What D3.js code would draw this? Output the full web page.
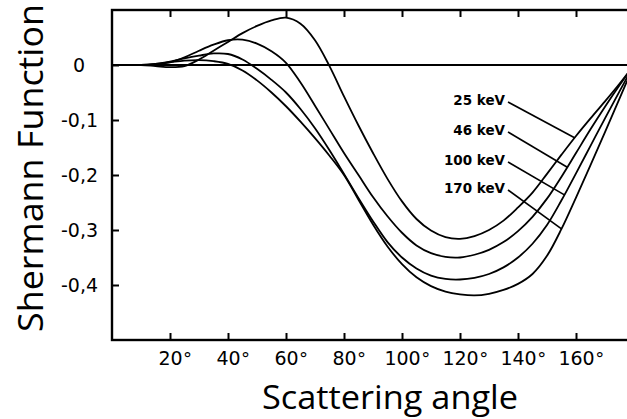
<!DOCTYPE html>
<html>
<head>
<meta charset="utf-8">
<script src="https://cdn.jsdelivr.net/npm/d3@7"></script>
<style>
  html, body { margin: 0; padding: 0; background: #fff; overflow: hidden; }
  svg { display: block; }
</style>
</head>
<body>
<svg id="chart" width="627" height="419"></svg>
<script>
// ---------- data ----------
const angles = [0,10,15,20,25,30,35,40,45,50,55,60,65,70,75,80,85,90,95,100,105,110,115,120,125,130,135,140,145,150,155,160,165,170,175,180];
const s25 = [0,0,-0.002,-0.004,-0.002,0.010,0.026,0.042,0.058,0.071,0.081,0.086,0.075,0.045,-0.002,-0.057,-0.110,-0.160,-0.207,-0.248,-0.280,-0.301,-0.313,-0.316,-0.311,-0.300,-0.283,-0.259,-0.232,-0.198,-0.163,-0.129,-0.097,-0.066,-0.034,0];
const s46 = [0,0,0.001,0.005,0.014,0.026,0.037,0.045,0.046,0.039,0.025,0.004,-0.032,-0.074,-0.117,-0.160,-0.200,-0.240,-0.275,-0.305,-0.328,-0.342,-0.349,-0.350,-0.345,-0.336,-0.322,-0.302,-0.276,-0.243,-0.203,-0.160,-0.117,-0.076,-0.037,0];
const s100 = [0,0,0.002,0.006,0.012,0.017,0.021,0.020,0.010,-0.007,-0.027,-0.050,-0.080,-0.115,-0.155,-0.198,-0.242,-0.284,-0.322,-0.350,-0.370,-0.383,-0.389,-0.390,-0.387,-0.380,-0.368,-0.350,-0.325,-0.291,-0.246,-0.197,-0.147,-0.097,-0.048,0];
const s170 = [0,0,0.002,0.005,0.008,0.009,0.007,0.002,-0.010,-0.028,-0.050,-0.075,-0.103,-0.133,-0.165,-0.200,-0.245,-0.290,-0.330,-0.362,-0.386,-0.402,-0.412,-0.417,-0.419,-0.416,-0.409,-0.398,-0.380,-0.347,-0.298,-0.241,-0.182,-0.122,-0.061,0];
const seriesNames = ["25 keV","46 keV","100 keV","170 keV"];
const leaderAngles = [159.5,157,156,155];
const xTicks = [20,40,60,80,100,120,140,160];
const yTicks = [0,-0.1,-0.2,-0.3,-0.4];
const xTitle = "Scattering angle";
const yTitle = "Shermann Function";

const allSeries = [s25, s46, s100, s170];

// ---------- layout ----------
const svg = d3.select("#chart");
svg.append("rect").attr("width",627).attr("height",419).attr("fill","#fff");

const x = d3.scaleLinear().domain([0,180]).range([112,634]);
const y = d3.scaleLinear().domain([-0.5,0.1]).range([340,10]);

const tickFont = "'DejaVu Sans', sans-serif";
const g = svg.append("g");

// zero line
g.append("line").attr("x1",x(0)).attr("x2",x(180)).attr("y1",y(0)).attr("y2",y(0))
  .attr("stroke","#000").attr("stroke-width",2);

// curves
const line = d3.line().x((d,i)=>x(angles[i])).y(d=>y(d)).curve(d3.curveCatmullRom.alpha(0.5));
allSeries.forEach(s=>{
  g.append("path").attr("d",line(s)).attr("fill","none")
   .attr("stroke","#000").attr("stroke-width",1.8);
});

// axes ticks (inward)
const ax = (gen, tr) => g.append("g").attr("transform",tr).call(gen);
const axTop = ax(d3.axisTop(x).tickValues(xTicks).tickSize(-7).tickSizeOuter(0).tickFormat(""), `translate(0,${y(0.1)})`);
const axBottom = ax(d3.axisBottom(x).tickValues(xTicks).tickSize(-7).tickSizeOuter(0).tickFormat(d=>d), `translate(0,${y(-0.5)})`);
const axLeft = ax(d3.axisLeft(y).tickValues(yTicks).tickSize(-7).tickSizeOuter(0).tickFormat(d=> d===0 ? "0" : "-" + Math.abs(d).toFixed(1).replace(".",",")), `translate(${x(0)},0)`);
const axRight = ax(d3.axisRight(y).tickValues(yTicks.slice(1)).tickSize(-7).tickSizeOuter(0).tickFormat(""), `translate(${x(180)},0)`);

[axTop,axBottom,axLeft,axRight].forEach(a=>{
  a.select(".domain").remove();
  a.selectAll(".tick line").attr("stroke","#000").attr("stroke-width",2);
});

// frame
g.append("rect").attr("x",x(0)).attr("y",y(0.1)).attr("width",x(180)-x(0)).attr("height",y(-0.5)-y(0.1))
  .attr("fill","none").attr("stroke","#000").attr("stroke-width",2.4);

// y tick labels: leading zeros aligned
axLeft.selectAll(".tick text")
  .attr("font-family",tickFont).attr("font-size",19).attr("fill","#000")
  .attr("text-anchor","start")
  .attr("x", d => d===0 ? 73-112 : 61-112)
  .attr("dy","0.35em");

// x tick labels: digits centred on tick, degree sign hanging right
axBottom.selectAll(".tick text").each(function(d){
  const t = d3.select(this);
  t.attr("font-family",tickFont).attr("font-size",19).attr("fill","#000")
   .attr("text-anchor","middle").attr("y",12).attr("dy","0.71em");
  const w = this.getComputedTextLength();
  d3.select(this.parentNode).append("text")
    .attr("font-family",tickFont).attr("font-size",18).attr("fill","#000")
    .attr("text-anchor","start").attr("x", w/2 + 0.5).attr("y",12).attr("dy","0.71em")
    .text("°");
});

// legend labels + leaders
const baselines = [105,135,165,193];
seriesNames.forEach((name,i)=>{
  g.append("text").attr("x",505).attr("y",baselines[i])
    .attr("text-anchor","end").attr("font-family",tickFont).attr("font-weight","bold")
    .attr("font-size",13.5).attr("fill","#000").text(name);
  const th = leaderAngles[i];
  const v = d3.scaleLinear().domain(angles).range(allSeries[i])(th);
  g.append("line").attr("x1",508).attr("y1",baselines[i]-3)
    .attr("x2",x(th)).attr("y2",y(v)).attr("stroke","#000").attr("stroke-width",1.6);
});

// axis titles
svg.append("text").attr("transform","translate(43,168) rotate(-90)")
  .attr("text-anchor","middle").attr("font-family","'Open Sans', sans-serif")
  .attr("font-size",35).attr("fill","#000")
  .attr("textLength",328).attr("lengthAdjust","spacingAndGlyphs").text(yTitle);
svg.append("text").attr("x",390).attr("y",409)
  .attr("text-anchor","middle").attr("font-family","'Open Sans', sans-serif")
  .attr("font-size",33).attr("fill","#000")
  .attr("textLength",256).attr("lengthAdjust","spacingAndGlyphs").text(xTitle);
</script>
</body>
</html>
